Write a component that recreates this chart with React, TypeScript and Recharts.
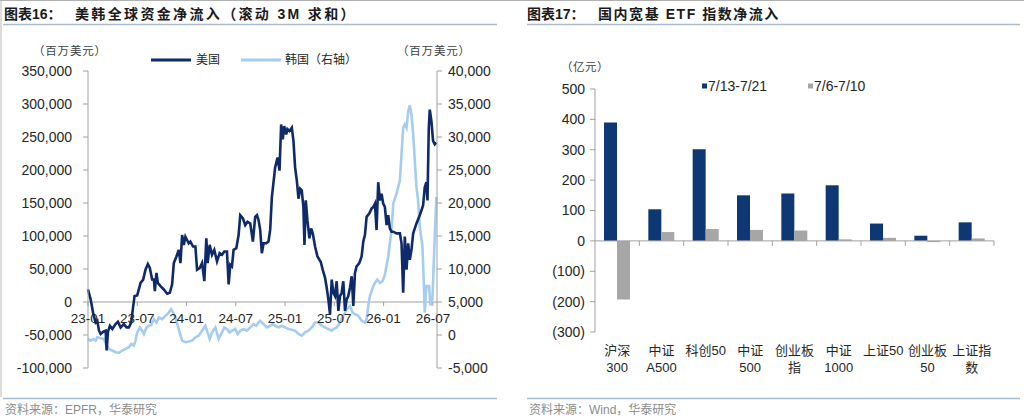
import React from 'react';
import { LineChart, Line, XAxis, YAxis, ReferenceLine, BarChart, Bar } from 'recharts';

const FONT = '"Liberation Sans", Arial, "Noto Sans CJK SC", sans-serif';
const US_COLOR = '#0e2a6b';
const KR_COLOR = '#a4cdf1';
const ETF_BLUE = '#0d3873';
const ETF_GRAY = '#a6a6a6';
const AXIS_GRAY = '#a0a0a0';
const TEXT = '#262626';
const RULE = '#a9bccf';

// ---------- Chart 16 data ----------
const timeTicks = [0, 6, 12, 18, 24, 30, 36, 42];
const timeTickLabels = ['23-01', '23-07', '24-01', '24-07', '25-01', '25-07', '26-01', '26-07'];
const leftTicks = [-100000, -50000, 0, 50000, 100000, 150000, 200000, 250000, 300000, 350000];
const rightTicks = [-5000, 0, 5000, 10000, 15000, 20000, 25000, 30000, 35000, 40000];

const usMonth = [
  0, 0.32, 0.65, 0.93, 1.13, 1.34, 1.54, 1.86, 2.15, 2.27, 2.43, 2.67, 2.96, 3.36, 3.64, 3.97, 4.37, 4.7, 4.98, 5.26,
  5.51, 5.67, 5.99, 6.19, 6.4, 6.72, 7.0, 7.29, 7.53, 7.81, 8.02, 8.14, 8.34, 8.5, 8.83, 9.23, 9.64, 9.96, 10.24, 10.45,
  10.77, 11.05, 11.26, 11.46, 11.66, 11.86, 12.06, 12.27, 12.47, 12.79, 13.08, 13.28, 13.6, 13.89, 14.17, 14.41, 14.57, 14.82, 15.1, 15.38,
  15.71, 16.03, 16.32, 16.6, 16.92, 17.13, 17.33, 17.53, 17.73, 18.06, 18.34, 18.54, 18.87, 19.15, 19.43, 19.76, 20.08, 20.36, 20.57, 20.77,
  20.97, 21.17, 21.38, 21.7, 21.98, 22.19, 22.39, 22.79, 23.08, 23.32, 23.52, 23.72, 23.89, 24.13, 24.29, 24.53, 24.82, 25.02, 25.22, 25.43,
  25.63, 25.83, 26.03, 26.23, 26.36, 26.52, 26.72, 26.96, 27.17, 27.37, 27.65, 27.94, 28.18, 28.34, 28.58, 28.87, 29.07, 29.27, 29.47, 29.68,
  29.88, 30.08, 30.28, 30.49, 30.69, 30.89, 31.09, 31.3, 31.5, 31.7, 31.9, 32.11, 32.31, 32.51, 32.71, 33.04, 33.32, 33.52, 33.72, 33.93,
  34.25, 34.53, 34.74, 34.94, 35.14, 35.34, 35.55, 35.75, 35.95, 36.15, 36.36, 36.56, 36.76, 36.96, 37.17, 37.57, 37.98, 38.18, 38.38, 38.58,
  38.79, 38.99, 39.19, 39.39, 39.6, 39.8, 40.0, 40.4, 40.61, 40.81, 41.01, 41.21, 41.34, 41.5, 41.62, 41.82, 42.02, 42.23, 42.43,
];
const usFlow = [
  19000, 4000, -18500, -31000, -28500, -43500, -48500, -45000, -43500, -73500, -45000, -36000, -41000, -33500, -30000, -38500, -33500, -38500, -38500, -31000,
  -6000, 9000, 10000, 19000, 29000, 34000, 49000, 57500, 51500, 34000, 34000, 16500, 44000, 29000, 24000, 19000, 12500, 14000, 26500, 59000,
  69000, 79000, 59000, 101500, 86500, 99000, 94000, 89000, 91500, 84000, 84000, 49000, 51500, 59000, 31500, 96500, 59000, 86500, 71500, 79000,
  61500, 74000, 71500, 76500, 76500, 26500, 56500, 54000, 79000, 81500, 101500, 131500, 126500, 116500, 121500, 119000, 91500, 129000, 131500, 124000,
  109000, 74000, 89000, 89000, 91500, 110000, 159000, 204000, 219000, 199000, 269000, 246500, 266500, 254000, 262000, 259000, 264000, 244000, 204000, 184000,
  156500, 171500, 169000, 144000, 86500, 154000, 124000, 96500, 111500, 104000, 84000, 69000, 64000, 61000, 49000, 36500, 21500, 4000, -18500, 34000,
  14000, 9000, 31500, -13500, 9000, 14000, 31500, -13500, 4000, 9000, 21500, 39000, -6000, 44000, 54000, 59000, 69000, 91500, 101500, 129000,
  134000, 141500, 144000, 149000, 109000, 181500, 154000, 164000, 149000, 144000, 116500, 131500, 111500, 106500, 106500, 104000, 104000, 89000, 14000, 99000,
  49000, 89000, 64000, 79000, 104000, 111500, 119000, 131500, 139000, 146500, 174000, 181500, 154000, 264000, 291500, 274000, 244000, 239000, 241500,
];

const krMonth = [
  0, 0.32, 0.65, 0.93, 1.13, 1.54, 1.94, 2.27, 2.55, 2.96, 3.36, 3.77, 4.17, 4.57, 4.98, 5.26, 5.59, 5.79, 5.99, 6.32,
  6.6, 6.8, 7.13, 7.41, 7.7, 8.02, 8.34, 8.62, 9.03, 9.43, 9.84, 10.12, 10.36, 10.65, 11.05, 11.46, 11.86, 12.27, 12.67, 13.08,
  13.48, 13.89, 14.29, 14.49, 14.82, 15.1, 15.51, 15.91, 16.32, 16.6, 16.92, 17.25, 17.53, 17.94, 18.22, 18.54, 18.95, 19.35, 19.76, 20.16,
  20.49, 20.77, 20.97, 21.38, 21.78, 22.19, 22.51, 22.79, 23.2, 23.6, 24.01, 24.41, 24.82, 25.22, 25.63, 26.03, 26.44, 26.84, 27.25, 27.65,
  28.06, 28.46, 28.87, 29.27, 29.68, 29.88, 30.28, 30.69, 31.09, 31.5, 31.9, 32.23, 32.51, 32.91, 33.32, 33.72, 33.93, 34.13, 34.33, 34.66,
  34.94, 35.22, 35.55, 35.87, 36.15, 36.56, 36.96, 37.17, 37.57, 37.77, 37.98, 38.18, 38.38, 38.58, 38.79, 38.99, 39.19, 39.39, 39.6, 39.8,
  40.0, 40.2, 40.4, 40.73, 40.89, 41.01, 41.21, 41.54, 41.7, 41.94, 42.23, 42.43,
];
const krFlow = [
  -600, -850, -600, -850, -350, -500, -600, -1600, -2100, -2350, -2600, -2700, -2350, -2100, -1850, -1350, -1600, -850, 400, 1150,
  650, 150, 1150, 1400, 1500, 2400, 1900, 2650, 2400, 2900, 3400, 3900, 3400, 2650, 900, -850, -1100, -1000, -850, -350,
  -100, 650, 1400, 650, -600, 400, 1150, -600, 400, 1150, 900, 400, 650, 900, 150, 650, 900, 650, 1150, 1650,
  1400, 1900, 2150, 1650, 1150, 1400, 1650, 1400, 1150, 1400, 1150, 900, 800, 650, 150, -100, 400, 650, 1150, 1900,
  1900, 1400, 1150, 900, 650, 900, 1150, 1900, 2900, 3900, 4400, 3400, 3150, 2900, 2150, 1900, 2400, 4400, 5900, 7150,
  7900, 8400, 7900, 8150, 9150, 11900, 15900, 19900, 21400, 22400, 23400, 27400, 31400, 31900, 31400, 33900, 34800, 33400, 30400, 26400,
  22400, 20400, 16400, 13400, 7900, 3400, 7400, 7400, 4500, 5400, 15000, 20900,
];

const usData = usMonth.map((m, i) => ({ m, v: usFlow[i] }));
const krData = krMonth.map((m, i) => ({ m, v: krFlow[i] }));

// ---------- Chart 17 data ----------
const etfCategories = ['沪深\n300', '中证\nA500', '科创50', '中证\n500', '创业板\n指', '中证\n1000', '上证50', '创业板\n50', '上证指\n数'];
const etfRecent = [390, 104, 302, 150, 156, 183, 57, 17, 61];
const etfPrior = [-193, 29, 39, 36, 34, 5, 10, -4, 8];
const etfTicks = [-300, -200, -100, 0, 100, 200, 300, 400, 500];
const etfSeriesNames = ['7/13-7/21', '7/6-7/10'];

const etfData = etfCategories.map((name, i) => ({ name, recent: etfRecent[i], prior: etfPrior[i] }));

// ---------- layout constants ----------
const L_W = 512, L_H = 419;
const L_MARGIN = { top: 71, right: 15, bottom: 21, left: 0 };
const L_XAXIS_H = 30;
const L_PLOT_H = L_H - L_MARGIN.top - L_MARGIN.bottom - L_XAXIS_H;
const L_ZERO_OFFSET = (L_PLOT_H * (0 - leftTicks[0])) / (leftTicks[leftTicks.length - 1] - leftTicks[0]);

const R_W = 512, R_H = 419;
const R_MARGIN = { top: 89, right: 30, bottom: 27, left: 0 };
const R_YAXIS_W = 83;
const R_XAXIS_H = 60;
const R_PLOT_H = R_H - R_MARGIN.top - R_MARGIN.bottom - R_XAXIS_H;
const R_PLOT_W = R_W - R_MARGIN.left - R_MARGIN.right - R_YAXIS_W;
const R_ZERO_OFFSET = (R_PLOT_H * (0 - etfTicks[0])) / (etfTicks[etfTicks.length - 1] - etfTicks[0]);
const R_HALF_BAND = R_PLOT_W / etfCategories.length / 2;

const fmtComma = (v: number) => v.toLocaleString('en-US');
const fmtParen = (v: number) => (v < 0 ? `(${-v})` : `${v}`);

const TimeTick = (props: any) => {
  const { x, y, payload } = props;
  const idx = timeTicks.indexOf(payload.value);
  const zeroY = y - L_ZERO_OFFSET;
  return (
    <g>
      <line x1={x} x2={x} y1={zeroY} y2={zeroY + 4} stroke={AXIS_GRAY} strokeWidth={1} />
      <text x={x} y={zeroY + 16} dy="0.355em" textAnchor="middle" fontSize={13.5} fill={TEXT} fontFamily={FONT}>
        {idx >= 0 ? timeTickLabels[idx] : ''}
      </text>
    </g>
  );
};

const EtfTick = (props: any) => {
  const { x, y, payload } = props;
  const zeroY = y - R_ZERO_OFFSET;
  const lines = String(payload.value).split('\n');
  return (
    <g>
      <line x1={x + R_HALF_BAND} x2={x + R_HALF_BAND} y1={zeroY} y2={zeroY + 5} stroke={AXIS_GRAY} strokeWidth={1} />
      {lines.map((t, i) => (
        <text key={i} x={x} y={y + 18 + i * 17.5} dy="0.355em" textAnchor="middle" fontSize={13} fill={TEXT} fontFamily={FONT}>
          {t}
        </text>
      ))}
    </g>
  );
};

const tickStyle = { fontSize: 14, fill: TEXT, fontFamily: FONT };

export default function App() {
  return (
    <div style={{ position: 'absolute', left: 0, top: 0, width: 1024, height: 419, background: '#ffffff', overflow: 'hidden', fontFamily: FONT }}>
      {/* Left chart */}
      <div style={{ position: 'absolute', left: 0, top: 0 }}>
        <LineChart width={L_W} height={L_H} margin={L_MARGIN}>
          <XAxis
            dataKey="m"
            type="number"
            domain={[0, 42.5]}
            ticks={timeTicks}
            axisLine={false}
            tickLine={false}
            tickSize={0}
            tickMargin={0}
            height={L_XAXIS_H}
            interval={0}
            tick={<TimeTick />}
            allowDuplicatedCategory={false}
          />
          <YAxis
            yAxisId="left"
            orientation="left"
            width={88}
            domain={[leftTicks[0], leftTicks[leftTicks.length - 1]]}
            ticks={leftTicks}
            interval={0}
            tickFormatter={fmtComma}
            axisLine={{ stroke: AXIS_GRAY }}
            tickLine={{ stroke: AXIS_GRAY }}
            tickSize={5}
            tickMargin={11}
            tick={tickStyle}
          />
          <YAxis
            yAxisId="right"
            orientation="right"
            width={60}
            domain={[rightTicks[0], rightTicks[rightTicks.length - 1]]}
            ticks={rightTicks}
            interval={0}
            tickFormatter={fmtComma}
            axisLine={{ stroke: AXIS_GRAY }}
            tickLine={{ stroke: AXIS_GRAY }}
            tickSize={5}
            tickMargin={6}
            tick={tickStyle}
          />
          <ReferenceLine yAxisId="left" y={0} stroke={AXIS_GRAY} strokeWidth={1} />
          <Line yAxisId="right" data={krData} dataKey="v" type="linear" stroke={KR_COLOR} strokeWidth={2.6} dot={false} isAnimationActive={false} />
          <Line yAxisId="left" data={usData} dataKey="v" type="linear" stroke={US_COLOR} strokeWidth={2.6} dot={false} isAnimationActive={false} />
        </LineChart>
      </div>

      {/* Right chart */}
      <div style={{ position: 'absolute', left: 512, top: 0 }}>
        <BarChart width={R_W} height={R_H} margin={R_MARGIN} data={etfData} barGap={0} barSize={13}>
          <XAxis
            dataKey="name"
            axisLine={false}
            tickLine={false}
            tickSize={0}
            tickMargin={0}
            height={R_XAXIS_H}
            interval={0}
            tick={<EtfTick />}
          />
          <YAxis
            width={R_YAXIS_W}
            domain={[etfTicks[0], etfTicks[etfTicks.length - 1]]}
            ticks={etfTicks}
            interval={0}
            tickFormatter={fmtParen}
            axisLine={{ stroke: AXIS_GRAY }}
            tickLine={{ stroke: AXIS_GRAY }}
            tickSize={5}
            tickMargin={5}
            tick={tickStyle}
          />
          <Bar dataKey="recent" name={etfSeriesNames[0]} fill={ETF_BLUE} isAnimationActive={false} />
          <Bar dataKey="prior" name={etfSeriesNames[1]} fill={ETF_GRAY} isAnimationActive={false} />
          <ReferenceLine y={0} stroke={AXIS_GRAY} strokeWidth={1} />
        </BarChart>
      </div>

      {/* Overlay text and rules */}
      <svg width={1024} height={419} style={{ position: 'absolute', left: 0, top: 0, pointerEvents: 'none' }}>
        <line x1={0} x2={1024} y1={0.5} y2={0.5} stroke="#b0b0b0" strokeWidth={1} />
        <line x1={1} x2={1} y1={0} y2={397} stroke="#b8b8b8" strokeWidth={1} />

        {/* Titles */}
        <text x={4} y={14} dominantBaseline="central" fontSize={14} fontWeight="bold" fill="#1a1a1a" fontFamily={FONT}>
          图表16：
        </text>
        <text x={75} y={14} dominantBaseline="central" fontSize={14} fontWeight="bold" fill="#1a1a1a" fontFamily={FONT} letterSpacing={2.35}>
          美韩全球资金净流入（滚动 3M 求和）
        </text>
        <line x1={3} x2={497} y1={24.5} y2={24.5} stroke={RULE} strokeWidth={1.5} />

        <text x={527} y={14} dominantBaseline="central" fontSize={14} fontWeight="bold" fill="#1a1a1a" fontFamily={FONT}>
          图表17：
        </text>
        <text x={598} y={14} dominantBaseline="central" fontSize={14} fontWeight="bold" fill="#1a1a1a" fontFamily={FONT} letterSpacing={1.55}>
          国内宽基 ETF 指数净流入
        </text>
        <line x1={527} x2={1020} y1={24.5} y2={24.5} stroke={RULE} strokeWidth={1.5} />

        {/* Units */}
        <text x={33} y={51} dominantBaseline="central" fontSize={11.5} fill="#404040" fontFamily={FONT} letterSpacing={0.8}>（百万美元）</text>
        <text x={397} y={51} dominantBaseline="central" fontSize={11.5} fill="#404040" fontFamily={FONT} letterSpacing={0.8}>（百万美元）</text>
        <text x={561} y={67} dominantBaseline="central" fontSize={11.5} fill="#404040" fontFamily={FONT} letterSpacing={0.5}>（亿元）</text>

        {/* Legend chart 16 */}
        <line x1={151} x2={191} y1={60} y2={60} stroke={US_COLOR} strokeWidth={3} />
        <text x={196} y={60} dominantBaseline="central" fontSize={12} fill={TEXT} fontFamily={FONT}>美国</text>
        <line x1={241} x2={281} y1={60} y2={60} stroke={KR_COLOR} strokeWidth={3} />
        <text x={285} y={60} dominantBaseline="central" fontSize={12} fill={TEXT} fontFamily={FONT}>韩国（右轴）</text>

        {/* Legend chart 17 */}
        <rect x={702} y={83.5} width={5} height={5} fill={ETF_BLUE} />
        <text x={708} y={86} dominantBaseline="central" fontSize={14} fill={TEXT} fontFamily={FONT}>{etfSeriesNames[0]}</text>
        <rect x={808} y={83.5} width={5} height={5} fill={ETF_GRAY} />
        <text x={814} y={86} dominantBaseline="central" fontSize={14} fill={TEXT} fontFamily={FONT}>{etfSeriesNames[1]}</text>

        {/* Sources */}
        <line x1={3} x2={497} y1={398.5} y2={398.5} stroke={RULE} strokeWidth={1.5} />
        <text x={5} y={410} dominantBaseline="central" fontSize={12} fill="#8c8c8c" fontFamily={FONT}>资料来源：EPFR，华泰研究</text>
        <line x1={527} x2={1020} y1={398.5} y2={398.5} stroke={RULE} strokeWidth={1.5} />
        <text x={529} y={410} dominantBaseline="central" fontSize={12} fill="#8c8c8c" fontFamily={FONT}>资料来源：Wind，华泰研究</text>
      </svg>
    </div>
  );
}
